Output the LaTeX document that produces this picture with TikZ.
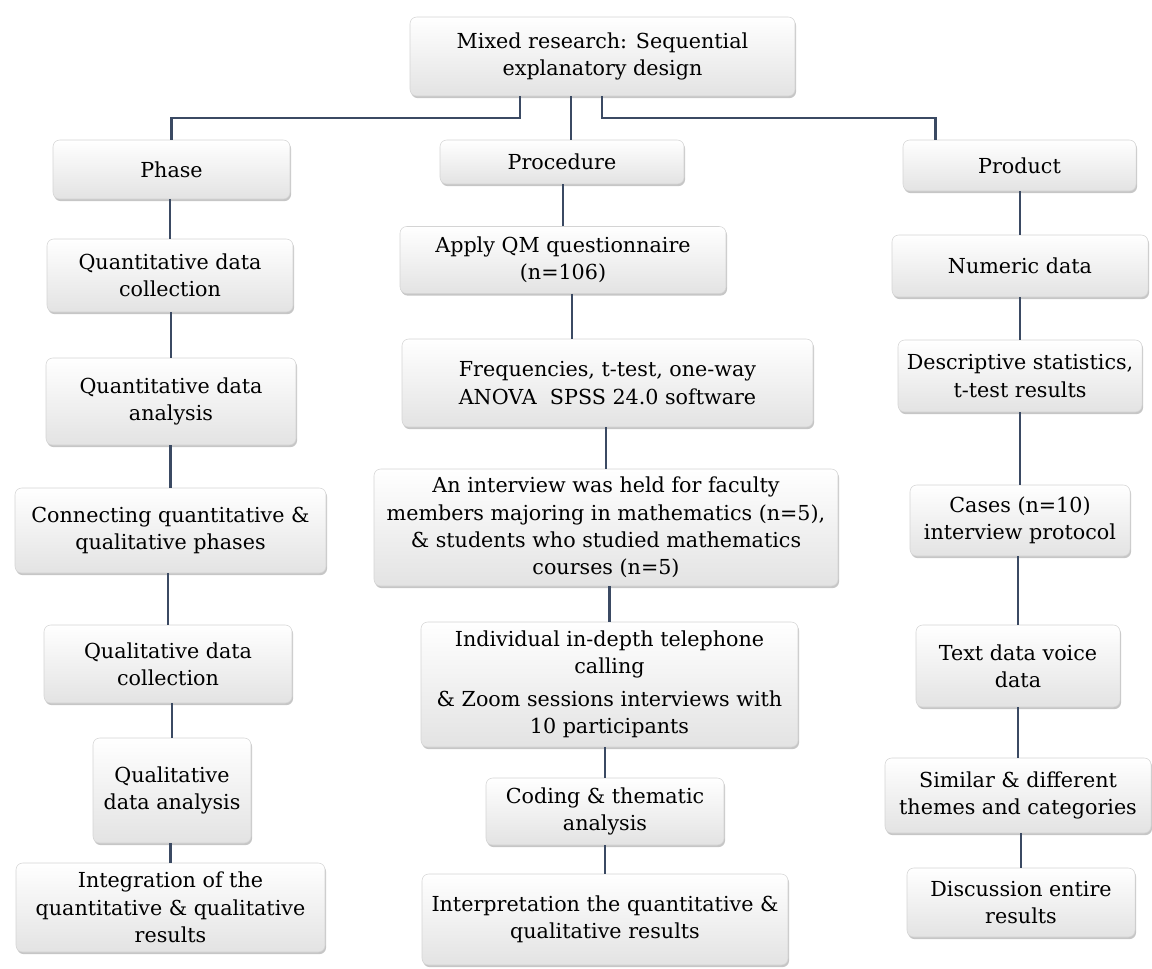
\documentclass[tikz,border=0pt]{standalone}
\usepackage{fontspec}
\setmainfont{DejaVu Serif}
\usetikzlibrary{calc,shadows}

\definecolor{linkcol}{HTML}{3B4A63}
\definecolor{boxedge}{HTML}{D4D4D4}
\tikzset{
	box/.style={rounded corners=5pt,draw=boxedge,line width=0.4pt,
		top color=white,bottom color=black!11,
		drop shadow={shadow xshift=0.8pt,shadow yshift=-1.6pt,opacity=0.45},
		align=center,inner sep=2pt,font=\fontsize{15.5}{20.5}\selectfont},
	link/.style={draw=linkcol,line width=2pt}
}

\begin{document}
\begin{tikzpicture}[x=0.75pt,y=-0.75pt]
	\def\u{0.75pt}
	\useasboundingbox (0,0) rectangle (1152,969);
	% head
	\node[box,minimum width=385*\u,minimum height=79*\u] (top) at (602.5,56.5) {Mixed research: Sequential\\explanatory design};
	\node[box,minimum width=237*\u,minimum height=59*\u] (phase) at (171.5,169.5) {Phase};
	\node[box,minimum width=244*\u,minimum height=44*\u] (proc) at (562,162) {Procedure};
	\node[box,minimum width=233*\u,minimum height=51*\u] (prod) at (1019.5,165.5) {Product};
	% phase column
	\node[box,minimum width=246*\u,minimum height=73*\u] (qnc) at (170,275.5) {Quantitative data\\collection};
	\node[box,minimum width=250*\u,minimum height=87*\u] (qna) at (171,401.5) {Quantitative data\\analysis};
	\node[box,minimum width=311*\u,minimum height=85*\u] (conn) at (170.5,530.5) {Connecting quantitative \&\\qualitative phases};
	\node[box,minimum width=248*\u,minimum height=78*\u] (qlc) at (168,664) {Qualitative data\\collection};
	\node[box,minimum width=158*\u,minimum height=105*\u] (qla) at (172,790.5) {Qualitative\\data analysis};
	\node[box,minimum width=309*\u,minimum height=89*\u] (integ) at (170.5,907.5) {Integration of the\\quantitative \& qualitative\\results};
	% procedure column
	\node[box,minimum width=326*\u,minimum height=67*\u] (apply) at (563,260) {Apply QM questionnaire\\(n=106)};
	\node[box,minimum width=411*\u,minimum height=88*\u] (freq) at (607.5,383) {Frequencies, t-test, one-way\\ANOVA\ \ SPSS 24.0 software};
	\node[box,minimum width=464*\u,minimum height=117*\u] (intv) at (606,527.5) {An interview was held for faculty\\members majoring in mathematics (n=5),\\\& students who studied mathematics\\courses (n=5)};
	\node[box,minimum width=377*\u,minimum height=125*\u] (indiv) at (609.5,684.5) {Individual in-depth telephone\\calling\\[4pt]\& Zoom sessions interviews with\\10 participants};
	\node[box,minimum width=238*\u,minimum height=67*\u] (coding) at (605,811.5) {Coding \& thematic\\analysis};
	\node[box,minimum width=366*\u,minimum height=91*\u] (interp) at (605,919.5) {Interpretation the quantitative \&\\qualitative results};
	% product column
	\node[box,minimum width=256*\u,minimum height=62*\u] (num) at (1020,266) {Numeric data};
	\node[box,minimum width=244*\u,minimum height=72*\u] (desc) at (1020,376) {Descriptive statistics,\\t-test results};
	\node[box,minimum width=220*\u,minimum height=71*\u] (cases) at (1020,520.5) {Cases (n=10)\\interview protocol};
	\node[box,minimum width=204*\u,minimum height=82*\u] (txt) at (1018,666) {Text data voice\\data};
	\node[box,minimum width=266*\u,minimum height=75*\u] (simil) at (1018,795.5) {Similar \& different\\themes and categories};
	\node[box,minimum width=228*\u,minimum height=69*\u] (disc) at (1021,902.5) {Discussion entire\\results};
	% links
	\coordinate (lbus) at (300,118);
	\coordinate (rbus) at (800,118);
	\begin{scope}[on background layer/.try]
	\draw[link] ([xshift=-82.5*\u]top.south) |- (lbus) -| (phase.north);
	\draw[link] ([xshift=-31.5*\u]top.south) -- ([xshift=9*\u]proc.north);
	\draw[link] ([xshift=-0.5*\u]top.south) |- (rbus) -| ([xshift=-84*\u]prod.north);
	\foreach \a/\b in {phase/qnc,qnc/qna,qna/conn,conn/qlc,qlc/qla,qla/integ,proc/apply,freq/intv,intv/indiv,indiv/coding,coding/interp,prod/num,num/desc,desc/cases,cases/txt,txt/simil,simil/disc}
		\draw[link] (\b.north) -- (\b.north |- \a.south);
	\draw[link] ([xshift=9*\u]apply.south) -- ([xshift=9*\u]apply.south |- freq.north);
	\end{scope}
\end{tikzpicture}
\end{document}
